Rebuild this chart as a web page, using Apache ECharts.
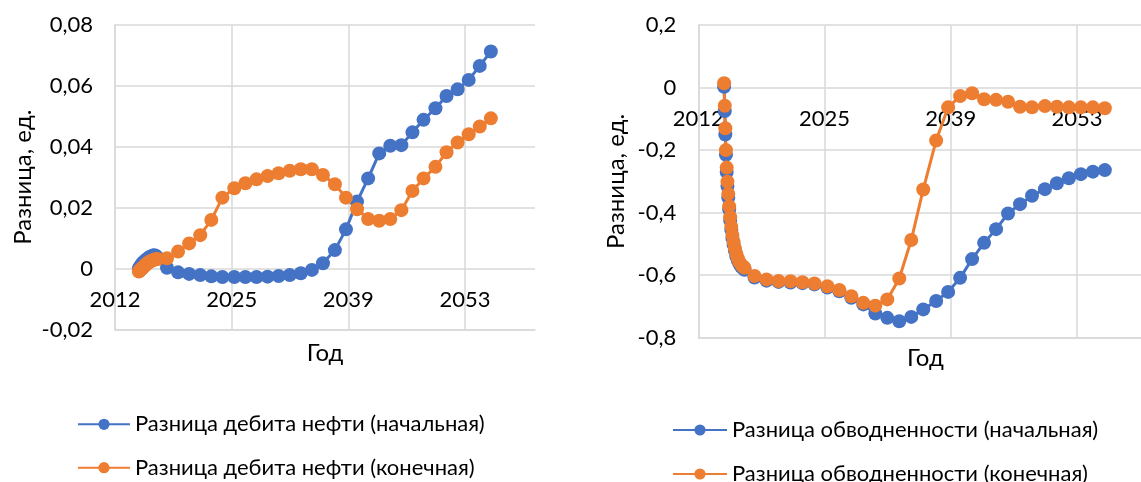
<!DOCTYPE html>
<html>
<head>
<meta charset="utf-8">
<script src="https://cdn.jsdelivr.net/npm/echarts@6/dist/echarts.min.js"></script>
<style>
html,body{margin:0;padding:0;background:#fff;}
#chart{width:1141px;height:482px;}
</style>
</head>
<body>
<div id="chart"></div>
<script>
// Shared time axis (decimal years)
const years = [2014.8, 2014.87, 2014.93, 2015.0, 2015.08, 2015.16, 2015.25, 2015.35, 2015.46, 2015.58,
  2015.7, 2015.83, 2015.97, 2016.12, 2016.28, 2016.45, 2016.63, 2016.82, 2017.02,
  2018.1, 2019.4, 2020.7, 2022.0, 2023.3, 2024.6, 2026.0, 2027.3, 2028.6, 2029.9,
  2031.2, 2032.5, 2033.8, 2035.1, 2036.4, 2037.8, 2039.1, 2040.4, 2041.7, 2043.0,
  2044.3, 2045.6, 2046.9, 2048.2, 2049.6, 2050.9, 2052.2, 2053.5, 2054.8, 2056.1];

// Left chart: oil rate difference
const oilInitial = [0, 0.0003, 0.0006, 0.0009, 0.0012, 0.0015, 0.0018, 0.0021, 0.0024, 0.0027,
  0.003, 0.0033, 0.0036, 0.0039, 0.0041, 0.0043, 0.0044, 0.0042, 0.0036,
  0.0003, -0.0012, -0.0017, -0.0021, -0.0025, -0.0027, -0.0027, -0.0027, -0.0027, -0.0026,
  -0.0024, -0.0021, -0.0015, -0.0004, 0.0018, 0.0061, 0.0129, 0.022, 0.0296, 0.0378,
  0.0403, 0.0405, 0.0447, 0.0488, 0.0526, 0.0566, 0.0588, 0.0619, 0.0665, 0.0712];
const oilFinal = [-0.0009, -0.0007, -0.0005, -0.0003, -0.0001, 0.0001, 0.0003, 0.0006, 0.0009, 0.0012,
  0.0015, 0.0018, 0.0021, 0.0024, 0.0026, 0.0028, 0.003, 0.0031, 0.0032,
  0.0034, 0.0056, 0.0083, 0.011, 0.016, 0.0233, 0.0264, 0.028, 0.0293, 0.0304,
  0.0313, 0.0321, 0.0326, 0.0326, 0.0307, 0.0277, 0.0233, 0.0195, 0.0163, 0.0157,
  0.0163, 0.0192, 0.0255, 0.0296, 0.0334, 0.0382, 0.0414, 0.0441, 0.0466, 0.0493];

// Right chart: water cut difference
const wcInitial = [0.003, -0.075, -0.15, -0.215, -0.27, -0.315, -0.352, -0.39, -0.425, -0.455,
  -0.481, -0.503, -0.522, -0.539, -0.553, -0.564, -0.572, -0.578, -0.583,
  -0.608, -0.618, -0.622, -0.624, -0.626, -0.63, -0.64, -0.652, -0.673, -0.694,
  -0.723, -0.737, -0.748, -0.734, -0.71, -0.683, -0.654, -0.609, -0.549, -0.497,
  -0.453, -0.403, -0.373, -0.346, -0.325, -0.306, -0.29, -0.277, -0.269, -0.264];
const wcFinal = [0.014, -0.058, -0.13, -0.2, -0.256, -0.301, -0.34, -0.38, -0.415, -0.445,
  -0.472, -0.495, -0.515, -0.532, -0.546, -0.558, -0.566, -0.572, -0.577,
  -0.603, -0.614, -0.619, -0.62, -0.623, -0.627, -0.636, -0.648, -0.668, -0.689,
  -0.698, -0.678, -0.611, -0.488, -0.326, -0.169, -0.063, -0.027, -0.018, -0.037,
  -0.039, -0.045, -0.061, -0.063, -0.059, -0.061, -0.063, -0.063, -0.063, -0.066];

const names = ['Разница дебита нефти (начальная)', 'Разница дебита нефти (конечная)',
  'Разница обводненности (начальная)', 'Разница обводненности (конечная)'];
const xName = 'Год';
const yName = 'Разница, ед.';

const FONT = 'Lato, "Noto Sans", sans-serif';
const BLUE = '#4472C4', ORANGE = '#ED7D31', GRID = '#D9D9D9';

function pairs(xs, ys) { return xs.map((x, i) => [x, ys[i]]); }

// labelShift: negative label margin that lifts the year labels up to the zero line
function xAxisCfg(idx, gap, labelShift) {
  return {
    type: 'value', gridIndex: idx, min: 2012, max: 2061.28, interval: 13.69,
    name: xName, nameLocation: 'middle', nameGap: gap,
    nameTextStyle: { fontFamily: FONT, fontSize: 24, color: '#000', verticalAlign: 'top' },
    axisLine: { show: true, onZero: false, lineStyle: { color: GRID, width: 1.5 } },
    axisTick: { show: false },
    axisLabel: { fontFamily: FONT, fontSize: 22, color: '#000', margin: labelShift, showMaxLabel: false,
      hideOverlap: false, formatter: v => String(Math.floor(v + 1e-6)) },
    splitLine: { show: true, showMaxLine: false, lineStyle: { color: GRID, width: 1.5 } }
  };
}
function yAxisCfg(idx, min, max, interval, gap) {
  return {
    type: 'value', gridIndex: idx, min: min, max: max, interval: interval,
    name: yName, nameLocation: 'middle', nameGap: gap, nameRotate: 90,
    nameTextStyle: { fontFamily: FONT, fontSize: 24, color: '#000' },
    axisLine: { show: true, onZero: false, lineStyle: { color: GRID, width: 1.5 } },
    axisTick: { show: false },
    axisLabel: { fontFamily: FONT, fontSize: 22, color: '#000', margin: 22,
      formatter: v => String(+v.toFixed(4)).replace('.', ',') },
    splitLine: { show: true, lineStyle: { color: GRID, width: 1.5 } }
  };
}
function lineSeries(name, color, xi, data) {
  return {
    name: name, type: 'line', xAxisIndex: xi, yAxisIndex: xi,
    data: data, symbol: 'circle', symbolSize: 14, showAllSymbol: true,
    lineStyle: { color: color, width: 3 },
    itemStyle: { color: color, borderWidth: 0 },
    emphasis: { disabled: true }
  };
}
function legendCfg(name, left, centerY, w) {
  return {
    data: [name], orient: 'horizontal', left: left, top: centerY - 12, padding: 0,
    itemWidth: w, itemHeight: 14,
    textStyle: { fontFamily: FONT, fontSize: 22, color: '#000', lineHeight: 24 }
  };
}

const chart = echarts.init(document.getElementById('chart'), null, { renderer: 'canvas' });
chart.setOption({
  animation: false,
  backgroundColor: '#fff',
  grid: [
    { left: 115, right: 606, top: 24.7, bottom: 152.3, containLabel: false, outerBoundsMode: 'none' },
    { left: 698.3, right: -11.6, top: 25.2, bottom: 144.5, containLabel: false, outerBoundsMode: 'none' }
  ],
  xAxis: [xAxisCfg(0, 12, -41), xAxisCfg(1, 9, -230)],
  yAxis: [yAxisCfg(0, -0.02, 0.08, 0.02, 80), yAxisCfg(1, -0.8, 0.2, 0.2, 70)],
  legend: [
    legendCfg(names[0], 77, 424.3, 52),
    legendCfg(names[1], 77, 467.7, 52),
    legendCfg(names[2], 672, 430, 54),
    legendCfg(names[3], 672, 474, 54)
  ],
  series: [
    lineSeries(names[0], BLUE, 0, pairs(years, oilInitial)),
    lineSeries(names[1], ORANGE, 0, pairs(years, oilFinal)),
    lineSeries(names[2], BLUE, 1, pairs(years, wcInitial)),
    lineSeries(names[3], ORANGE, 1, pairs(years, wcFinal))
  ]
});
</script>
</body>
</html>
